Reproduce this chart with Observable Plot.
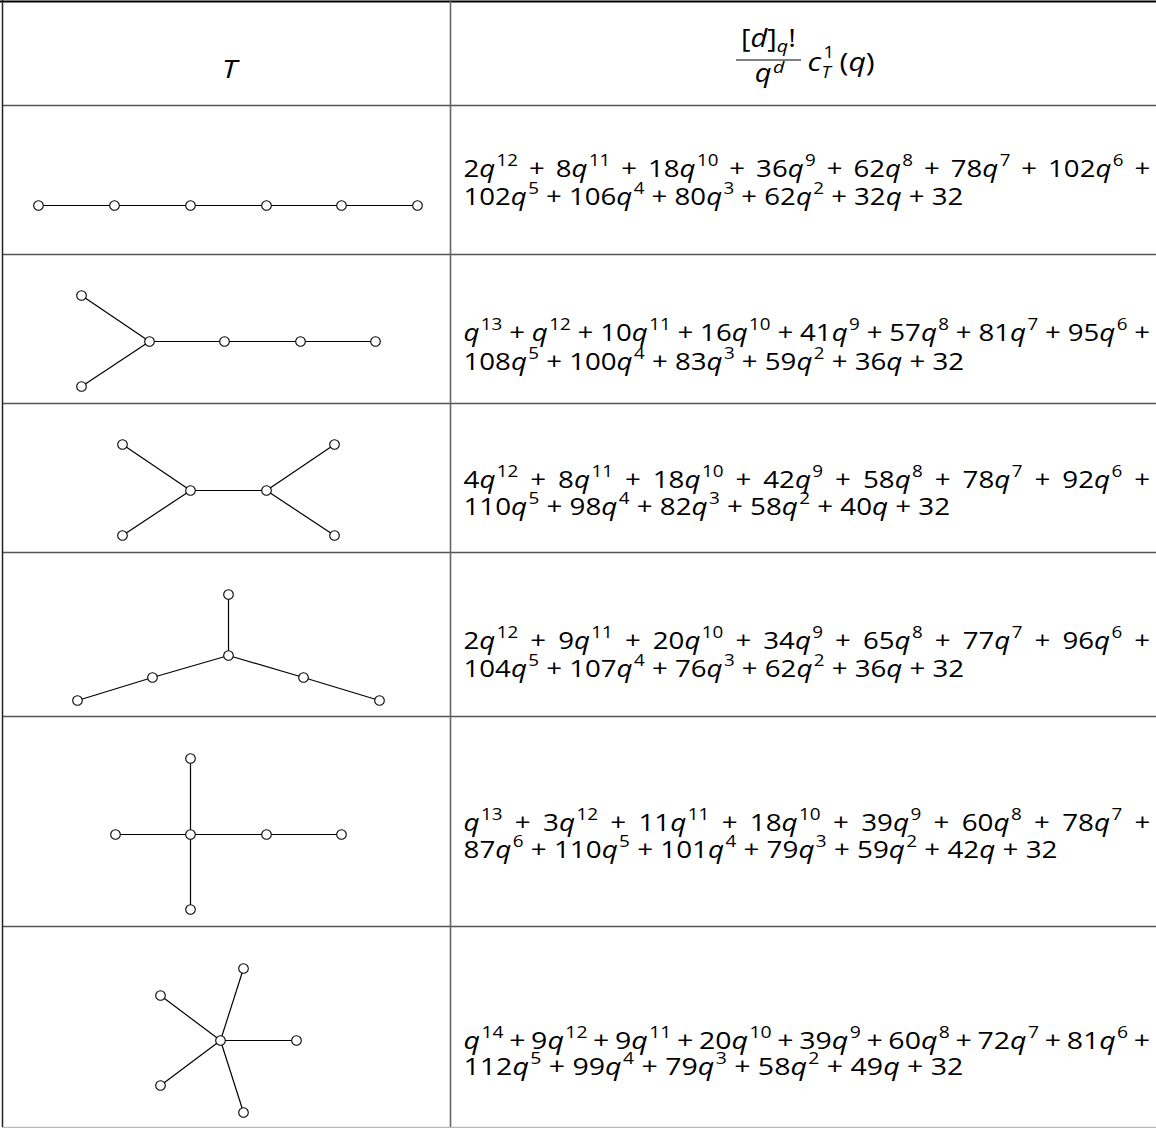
<!DOCTYPE html>
<html>
<head>
<meta charset="utf-8">
<script src="https://cdn.jsdelivr.net/npm/d3@7"></script>
<script src="https://cdn.jsdelivr.net/npm/@observablehq/plot@0.6"></script>
<style>
  body { margin: 0; background: #fff; }
  #chart svg { display: block; }
</style>
</head>
<body>
<div id="chart"></div>
<script>
// ---------- data ----------
const headerLeft = "T";
const headerNumerator = "[d]_{q}!";
const headerDenominator = "q^{d}";
const headerFactor = ["c", "1", "T", "(q)"];

const polyLine1 = [
  "2q^{12} + 8q^{11} + 18q^{10} + 36q^{9} + 62q^{8} + 78q^{7} + 102q^{6} +",
  "q^{13} + q^{12} + 10q^{11} + 16q^{10} + 41q^{9} + 57q^{8} + 81q^{7} + 95q^{6} +",
  "4q^{12} + 8q^{11} + 18q^{10} + 42q^{9} + 58q^{8} + 78q^{7} + 92q^{6} +",
  "2q^{12} + 9q^{11} + 20q^{10} + 34q^{9} + 65q^{8} + 77q^{7} + 96q^{6} +",
  "q^{13} + 3q^{12} + 11q^{11} + 18q^{10} + 39q^{9} + 60q^{8} + 78q^{7} +",
  "q^{14} + 9q^{12} + 9q^{11} + 20q^{10} + 39q^{9} + 60q^{8} + 72q^{7} + 81q^{6} +"
];
const polyLine2 = [
  "102q^{5} + 106q^{4} + 80q^{3} + 62q^{2} + 32q + 32",
  "108q^{5} + 100q^{4} + 83q^{3} + 59q^{2} + 36q + 32",
  "110q^{5} + 98q^{4} + 82q^{3} + 58q^{2} + 40q + 32",
  "104q^{5} + 107q^{4} + 76q^{3} + 62q^{2} + 36q + 32",
  "87q^{6} + 110q^{5} + 101q^{4} + 79q^{3} + 59q^{2} + 42q + 32",
  "112q^{5} + 99q^{4} + 79q^{3} + 58q^{2} + 49q + 32"
];

// tree nodes (diagram coordinates) and edges (node index pairs)
const tree1Nodes = [[38,205],[114,205],[190,205],[266,205],[341,205],[417,205]];
const tree1Edges = [[0,1],[1,2],[2,3],[3,4],[4,5]];
const tree2Nodes = [[81,295],[81,386],[149,341],[224,341],[300,341],[375,341]];
const tree2Edges = [[0,2],[1,2],[2,3],[3,4],[4,5]];
const tree3Nodes = [[122,444],[122,535],[190,490],[266,490],[334,444],[334,535]];
const tree3Edges = [[0,2],[1,2],[2,3],[3,4],[3,5]];
const tree4Nodes = [[228,594],[228,655],[152,677],[77,700],[303,677],[379,700]];
const tree4Edges = [[0,1],[1,2],[2,3],[1,4],[4,5]];
const tree5Nodes = [[190,758],[190,834],[190,909],[115,834],[266,834],[341,834]];
const tree5Edges = [[1,0],[1,2],[1,3],[1,4],[4,5]];
const tree6Nodes = [[220,1040],[243,968],[160,995],[296,1040],[160,1085],[243,1112]];
const tree6Edges = [[0,1],[0,2],[0,3],[0,4],[0,5]];

// ---------- layout ----------
const W = 1156, H = 1128;
const leftX = 2, colDivider = 450, bottomY = 1127;
const rowRules = [105, 254, 403, 552, 716, 926];
const textX = 463, line1End = 1150;
const line2End = [963, 964, 950, 964, 1057, 963];
const line1Y = [176, 340, 487, 648, 830, 1048];
const line2Y = [204, 369, 514, 676, 857, 1074];
const polySize = 24;

const trees = [
  [tree1Nodes, tree1Edges], [tree2Nodes, tree2Edges], [tree3Nodes, tree3Edges],
  [tree4Nodes, tree4Edges], [tree5Nodes, tree5Edges], [tree6Nodes, tree6Edges]
];
const nodes = trees.flatMap(([n]) => n.map(([x, y]) => ({x, y})));
const edges = trees.flatMap(([n, e]) => e.map(([a, b]) => ({x1: n[a][0], y1: n[a][1], x2: n[b][0], y2: n[b][1]})));

const polyRows = [];
polyLine1.forEach((t, i) => {
  polyRows.push({t, y: line1Y[i]});
  polyRows.push({t: polyLine2[i], y: line2Y[i]});
});

const headerStart = [
  {t: headerFactor[0], x: 807, y: 70, s: 26, sup: 0.42},
  {t: headerFactor[1], x: 823, y: 57, s: 16, sup: 0.42},
  {t: headerFactor[2], x: 821, y: 77, s: 16, sup: 0.42},
  {t: headerFactor[3], x: 839, y: 70, s: 26, sup: 0.42}
];
const headerMiddle = [
  {t: headerLeft, x: 229, y: 77, s: 26, sup: 0.42},
  {t: headerNumerator, x: 768, y: 46, s: 25, sup: 0.42},
  {t: headerDenominator, x: 769, y: 81, s: 25, sup: 0.35}
];

const font = "'Open Sans', 'Noto Sans', sans-serif";

const chart = Plot.plot({
  width: W,
  height: H,
  margin: 0,
  x: {domain: [0, W], range: [0, W], axis: null},
  y: {domain: [0, H], range: [0, H], axis: null},
  style: {background: "white", overflow: "visible"},
  marks: [
    Plot.ruleY(rowRules, {y: d => d, x1: leftX, x2: W, stroke: "#555", strokeWidth: 1.6}),
    Plot.ruleY([1], {y: d => d, x1: 0, x2: W, stroke: "#000", strokeWidth: 2}),
    Plot.ruleY([bottomY], {y: d => d, x1: leftX, x2: W, stroke: "#bbb", strokeWidth: 1.5}),
    Plot.ruleX([leftX], {x: d => d, y1: 0, y2: bottomY, stroke: "#222", strokeWidth: 1.5}),
    Plot.ruleX([colDivider], {x: d => d, y1: 0, y2: bottomY, stroke: "#666", strokeWidth: 1.6}),
    Plot.ruleY([59.5], {y: d => d, x1: 736, x2: 801, stroke: "#000", strokeWidth: 1.2}),
    Plot.link(edges, {x1: "x1", y1: "y1", x2: "x2", y2: "y2", stroke: "#000", strokeWidth: 1.2}),
    Plot.dot(nodes, {x: "x", y: "y", r: 4.8, fill: "white", stroke: "#000", strokeWidth: 1.1}),
    Plot.text(polyRows, {x: textX, y: "y", text: "t", textAnchor: "start", lineAnchor: "bottom",
      fontFamily: font, fill: "#000", className: "poly"}),
    Plot.text(headerStart, {x: "x", y: "y", text: "t", textAnchor: "start", lineAnchor: "bottom",
      fontFamily: font, fill: "#000", className: "head-start"}),
    Plot.text(headerMiddle, {x: "x", y: "y", text: "t", textAnchor: "middle", lineAnchor: "bottom",
      fontFamily: font, fill: "#000", className: "head-mid"})
  ]
});

document.getElementById("chart").appendChild(chart);

// rich text: italic letters, superscripts and subscripts as tspans
const NS = "http://www.w3.org/2000/svg";
function richify(el, fs, supRaise = 0.42) {
  const raw = el.textContent;
  el.textContent = "";
  let shift = 0;
  let prevItalic = false;
  const add = (s, size, target, isScript) => {
    const parts = s.match(/[A-Za-z]+|[^A-Za-z]+/g) || [];
    parts.forEach((p, k) => {
      const t = document.createElementNS(NS, "tspan");
      t.setAttribute("font-size", size);
      const italic = /[A-Za-z]/.test(p);
      if (italic) t.setAttribute("font-style", "italic");
      const dy = target - shift;
      if (dy) t.setAttribute("dy", dy);
      if (k === 0 && isScript && prevItalic && target < 0) t.setAttribute("dx", (0.05 * fs).toFixed(2));
      shift = target;
      t.textContent = p;
      el.appendChild(t);
      prevItalic = italic;
    });
  };
  const re = /\^\{([^}]*)\}|_\{([^}]*)\}|([^^_]+)/g;
  let m;
  while ((m = re.exec(raw))) {
    if (m[1] != null) add(m[1], fs * 0.68, -supRaise * fs, true);
    else if (m[2] != null) add(m[2], fs * 0.68, 0.22 * fs, true);
    else add(m[3], fs, 0, false);
  }
}

function scaleX(el, sx) {
  const bx = +el.getAttribute("x") || 0;
  const tr = el.getAttribute("transform") || "";
  el.setAttribute("transform", `${tr} translate(${bx},0) scale(${sx},1) translate(${-bx},0)`);
}
const widthOf = el => el.getBBox().width;

const polyEls = Array.from(chart.querySelectorAll("g.poly text"));
polyEls.forEach(el => richify(el, polySize));
// justify: line 2 sets glyph scale, line 1 stretched by word spacing
const scales = [];
for (let i = 0; i < polyLine1.length; i++) {
  const e1 = polyEls[2 * i], e2 = polyEls[2 * i + 1];
  const sx = (line2End[i] - textX) / widthOf(e2);
  scales.push(sx);
  scaleX(e2, sx);
  const need = (line1End - textX) / sx;
  const spaces = (polyLine1[i].match(/ /g) || []).length;
  let ws = 0;
  for (let k = 0; k < 3; k++) {
    const w1 = widthOf(e1);
    ws += (need - w1) / spaces;
    e1.style.wordSpacing = ws + "px";
  }
  scaleX(e1, sx);
}
const headScale = d3.mean(scales);

const hs = Array.from(chart.querySelectorAll("g.head-start text"));
hs.forEach((el, i) => { richify(el, headerStart[i].s, headerStart[i].sup); scaleX(el, headScale); });
const hm = Array.from(chart.querySelectorAll("g.head-mid text"));
hm.forEach((el, i) => { richify(el, headerMiddle[i].s, headerMiddle[i].sup); scaleX(el, headScale); });
</script>
</body>
</html>
